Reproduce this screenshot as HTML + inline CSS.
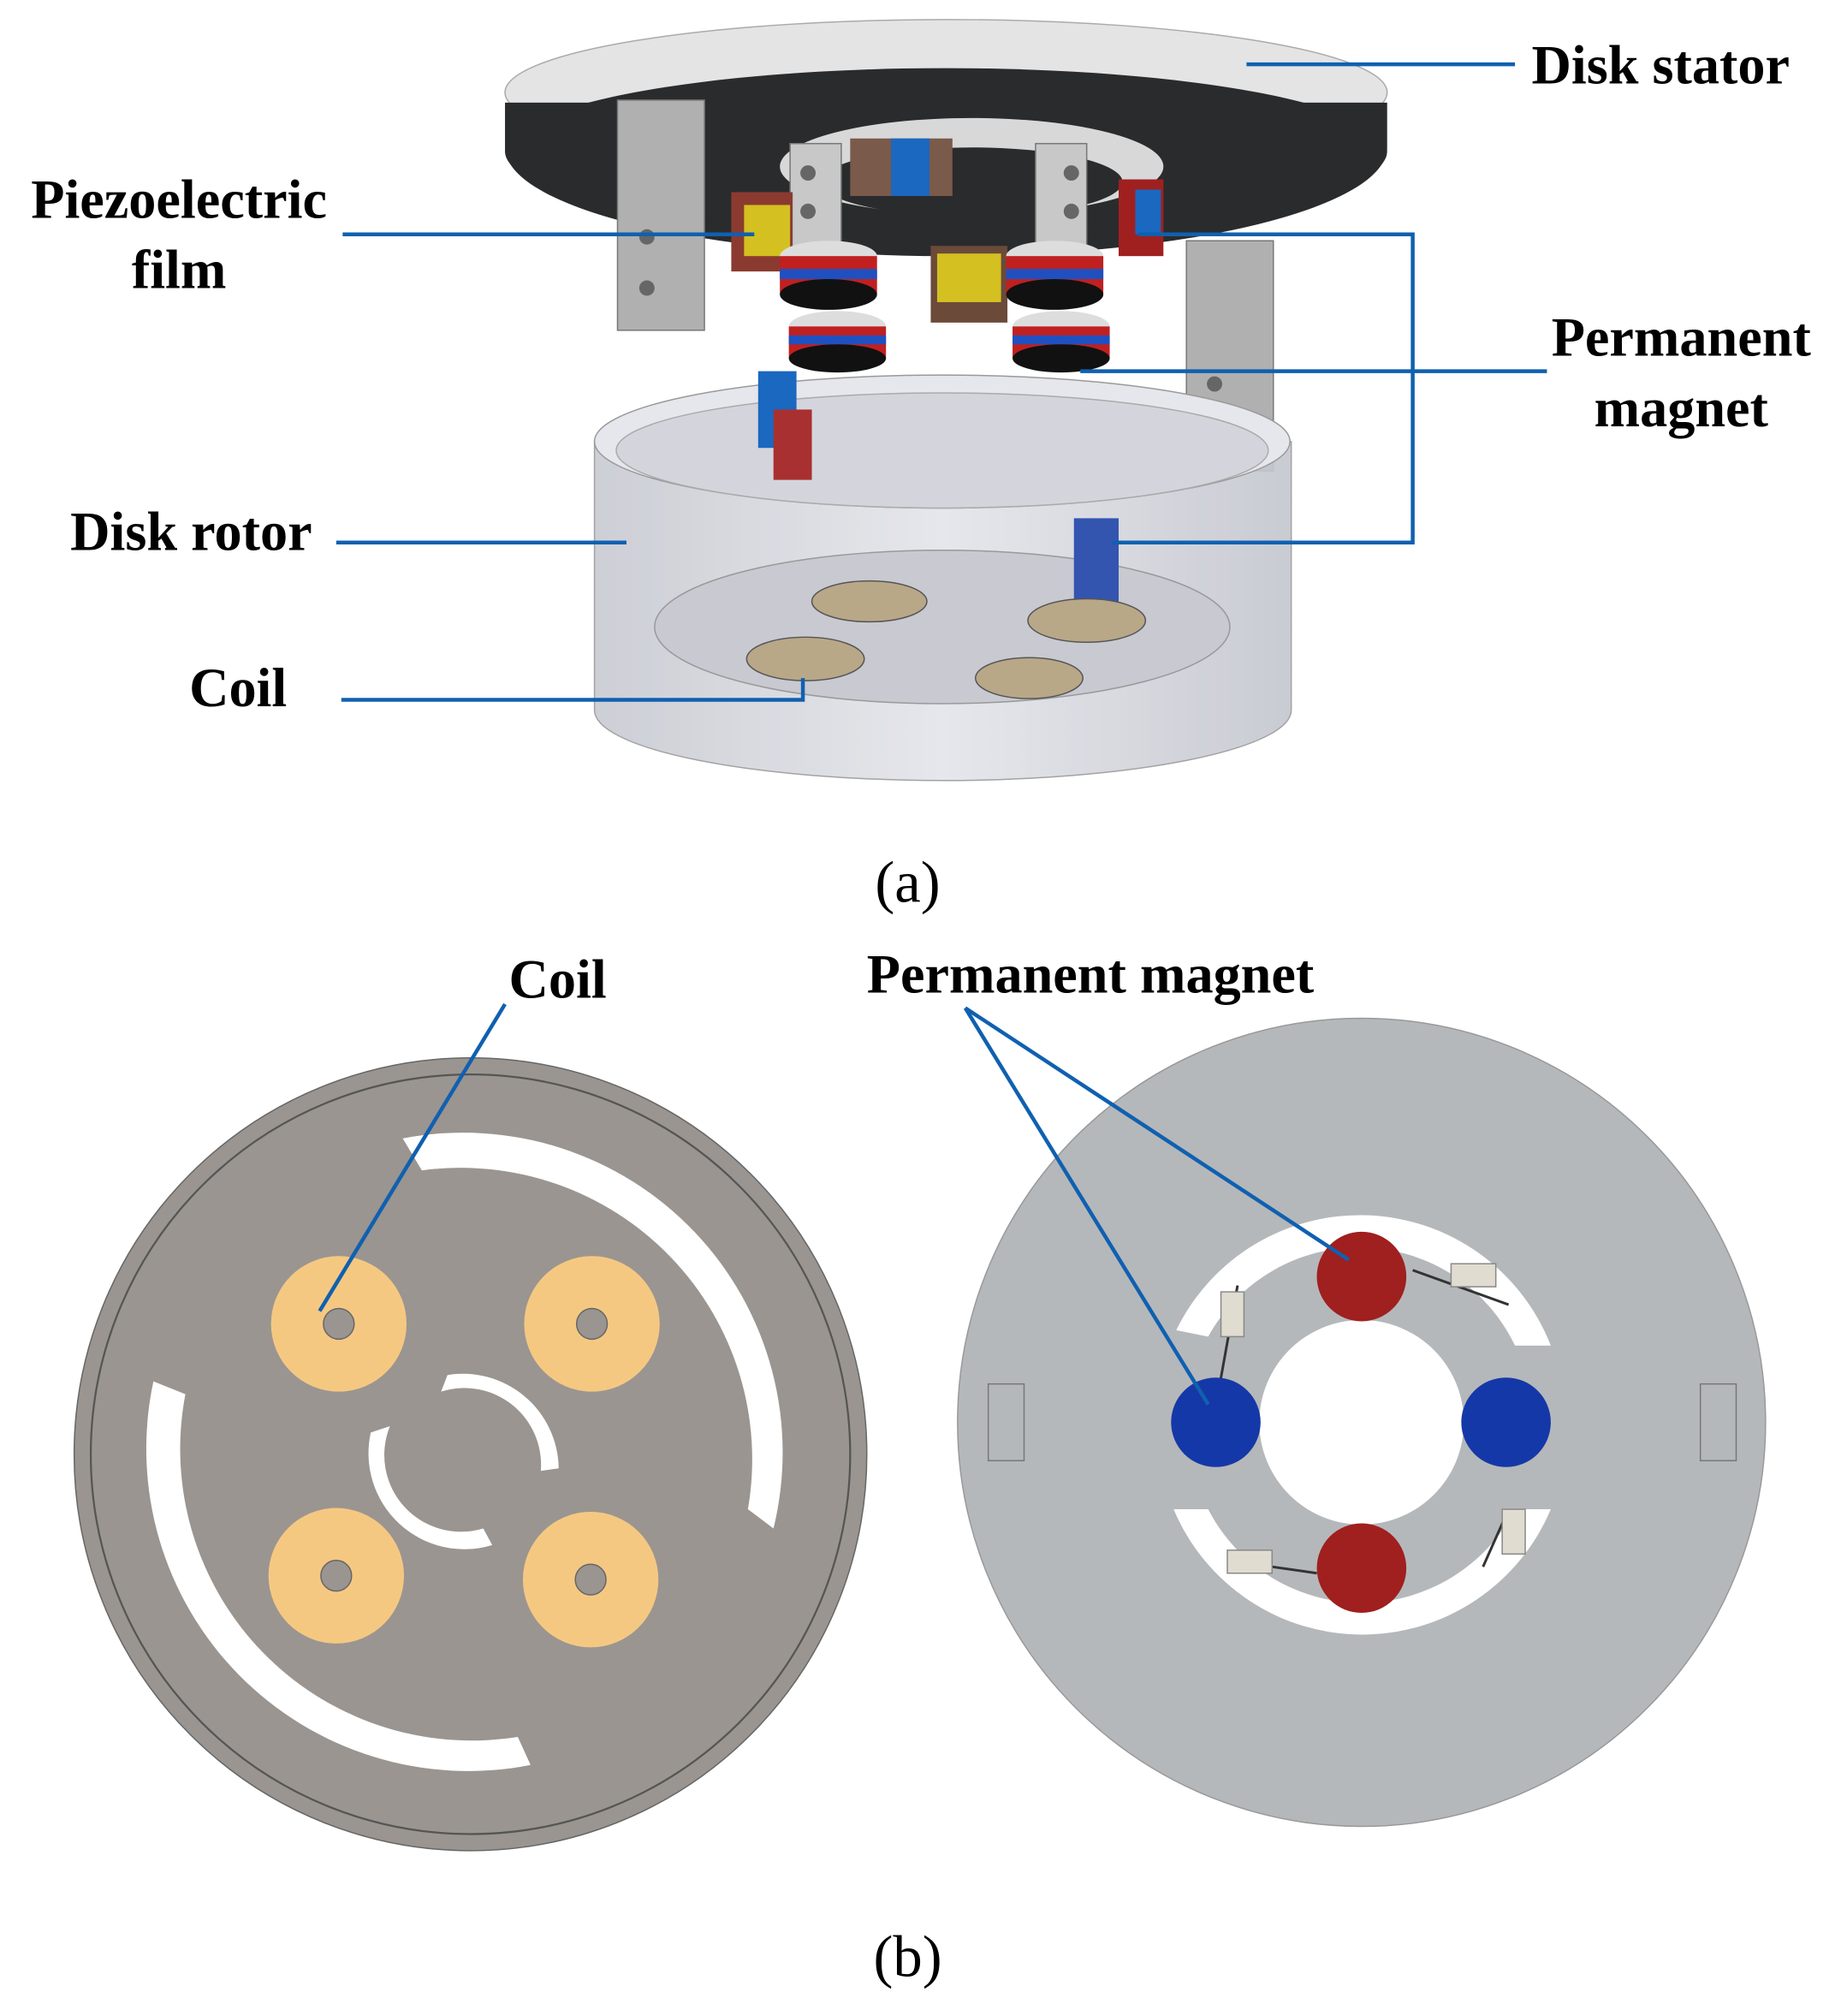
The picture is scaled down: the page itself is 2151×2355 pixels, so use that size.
<!DOCTYPE html>
<html><head><meta charset="utf-8"><style>html,body{margin:0;padding:0;background:#fff}svg{display:block}</style></head><body>
<svg width="2151" height="2355" viewBox="0 0 1440 1576" xmlns="http://www.w3.org/2000/svg">
<defs>
<linearGradient id="rot" x1="0" x2="1"><stop offset="0" stop-color="#c8cad2"/><stop offset="0.5" stop-color="#e4e5ea"/><stop offset="1" stop-color="#c4c6cf"/></linearGradient>
</defs>
<g font-family="Liberation Serif, serif" font-weight="bold" font-size="43" fill="#000">
<!-- Stator -->
<ellipse cx="740" cy="72" rx="345" ry="57" fill="#e4e4e4" stroke="#aaa"/>
<path d="M395 80 L395 115 A345 85 0 0 0 1085 115 L1085 80Z" fill="#2a2b2d"/>
<ellipse cx="740" cy="118" rx="345" ry="65" fill="#2a2b2d"/>
<ellipse cx="760" cy="130" rx="150" ry="38" fill="#d8d8d8"/>
<ellipse cx="760" cy="142" rx="118" ry="27" fill="#2a2b2d"/>
<!-- posts -->
<rect x="483" y="78" width="68" height="180" fill="#b0b0b0" stroke="#777"/>
<circle cx="506" cy="185" r="6" fill="#666"/><circle cx="506" cy="225" r="6" fill="#666"/>
<rect x="928" y="188" width="68" height="180" fill="#b0b0b0" stroke="#777"/>
<circle cx="950" cy="300" r="6" fill="#666"/><circle cx="950" cy="340" r="6" fill="#666"/>
<rect x="618" y="112" width="40" height="85" fill="#c8c8c8" stroke="#777"/>
<circle cx="632" cy="135" r="6" fill="#666"/><circle cx="632" cy="165" r="6" fill="#666"/>
<rect x="810" y="112" width="40" height="85" fill="#c8c8c8" stroke="#777"/>
<circle cx="838" cy="135" r="6" fill="#666"/><circle cx="838" cy="165" r="6" fill="#666"/>
<!-- piezo films -->
<rect x="572" y="150" width="48" height="62" fill="#8b3a30"/><rect x="582" y="160" width="36" height="40" fill="#d4c020"/>
<rect x="728" y="192" width="60" height="60" fill="#6b4a3a"/><rect x="733" y="198" width="50" height="38" fill="#d4c020"/>
<rect x="665" y="108" width="80" height="45" fill="#7a5a4a"/><rect x="697" y="108" width="30" height="45" fill="#1a68c0"/>
<rect x="875" y="140" width="35" height="60" fill="#a02020"/><rect x="888" y="148" width="20" height="35" fill="#1a68c0"/>
<!-- magnets stacks -->
<g>
<ellipse cx="648" cy="200" rx="38" ry="12" fill="#ddd"/><rect x="610" y="200" width="76" height="30" fill="#c02020"/><rect x="610" y="210" width="76" height="8" fill="#2050c0"/><ellipse cx="648" cy="230" rx="38" ry="12" fill="#111"/>
<ellipse cx="655" cy="255" rx="38" ry="12" fill="#ddd"/><rect x="617" y="255" width="76" height="25" fill="#c02020"/><rect x="617" y="262" width="76" height="7" fill="#2050c0"/><ellipse cx="655" cy="280" rx="38" ry="11" fill="#111"/>
<ellipse cx="825" cy="200" rx="38" ry="12" fill="#ddd"/><rect x="787" y="200" width="76" height="30" fill="#c02020"/><rect x="787" y="210" width="76" height="8" fill="#2050c0"/><ellipse cx="825" cy="230" rx="38" ry="12" fill="#111"/>
<ellipse cx="830" cy="255" rx="38" ry="12" fill="#ddd"/><rect x="792" y="255" width="76" height="25" fill="#c02020"/><rect x="792" y="262" width="76" height="7" fill="#2050c0"/><ellipse cx="830" cy="280" rx="38" ry="11" fill="#111"/>
</g>
<!-- rotor -->
<path d="M465 345 L465 555 A272 55 0 0 0 1010 555 L1010 345Z" fill="url(#rot)" stroke="#999" opacity="0.9"/>
<ellipse cx="737" cy="345" rx="272" ry="52" fill="#e6e7ec" stroke="#999"/>
<ellipse cx="737" cy="352" rx="255" ry="45" fill="#d4d5dc" stroke="#aaa"/>
<ellipse cx="737" cy="490" rx="225" ry="60" fill="#c8c9d1" stroke="#999"/>
<rect x="593" y="290" width="30" height="60" fill="#1a68c0"/><rect x="605" y="320" width="30" height="55" fill="#a83030"/>
<rect x="840" y="405" width="35" height="65" fill="#3355b0"/>
<!-- coils -->
<g fill="#b8a888" stroke="#555">
<ellipse cx="680" cy="470" rx="45" ry="16"/><ellipse cx="850" cy="485" rx="46" ry="17"/><ellipse cx="630" cy="515" rx="46" ry="17"/><ellipse cx="805" cy="530" rx="42" ry="16"/>
</g>
<!-- labels (a) -->
<text x="1198" y="65">Disk stator</text>
<text x="140" y="170" text-anchor="middle">Piezoelectric</text>
<text x="140" y="225" text-anchor="middle">film</text>
<text x="1315" y="278" text-anchor="middle">Permanent</text>
<text x="1315" y="333" text-anchor="middle">magnet</text>
<text x="55" y="430">Disk rotor</text>
<text x="148" y="552">Coil</text>
<text x="710" y="705" text-anchor="middle" font-weight="normal" font-size="46">(a)</text>
<g stroke="#1060b0" stroke-width="3" fill="none">
<path d="M975 50 H1185"/><path d="M268 183 H590"/><path d="M890 183 H1105 V424 H870"/><path d="M845 290 H1210"/><path d="M263 424 H490"/><path d="M267 547 H628 V530"/>
</g>
<!-- (b) left -->
<circle cx="368" cy="1137" r="310" fill="#9a9590" stroke="#666"/>
<circle cx="368" cy="1137" r="297" fill="none" stroke="#555" stroke-width="1.5"/>
<g fill="#fff">
<path d="M315 890 A250 250 0 0 1 605 1195 L585 1180 A228 228 0 0 0 330 915Z"/>
<path d="M120 1080 A252 252 0 0 0 415 1380 L405 1358 A228 228 0 0 1 145 1090Z"/>
<path d="M350 1075 A75 75 0 0 1 437 1148 L423 1150 A60 60 0 0 0 345 1088Z"/>
<path d="M290 1120 A75 75 0 0 0 385 1208 L378 1195 A60 60 0 0 1 305 1115Z"/>
</g>
<g fill="#f5c882"><circle cx="265" cy="1035" r="53"/><circle cx="463" cy="1035" r="53"/><circle cx="263" cy="1232" r="53"/><circle cx="462" cy="1235" r="53"/></g>
<g fill="#9a9590" stroke="#666"><circle cx="265" cy="1035" r="12"/><circle cx="463" cy="1035" r="12"/><circle cx="263" cy="1232" r="12"/><circle cx="462" cy="1235" r="12"/></g>
<!-- (b) right -->
<circle cx="1065" cy="1112" r="316" fill="#b5b8ba" stroke="#999"/>
<g fill="#fff">
<path d="M920 1040 A160 160 0 0 1 1213 1052 L1185 1052 A135 135 0 0 0 945 1045Z"/>
<path d="M918 1180 A160 160 0 0 0 1213 1180 L1185 1180 A135 135 0 0 1 945 1180Z"/>
</g>
<circle cx="1065" cy="1112" r="80" fill="#fff"/>
<rect x="773" y="1082" width="28" height="60" fill="none" stroke="#777"/>
<rect x="1330" y="1082" width="28" height="60" fill="none" stroke="#777"/>
<g stroke="#333" stroke-width="2"><path d="M968 1005 L950 1105"/><path d="M1105 993 L1180 1020"/><path d="M960 1220 L1030 1230"/><path d="M1180 1180 L1160 1225"/></g>
<g fill="#e0dcd0" stroke="#888"><rect x="1135" y="988" width="35" height="18"/><rect x="955" y="1010" width="18" height="35"/><rect x="960" y="1212" width="35" height="18"/><rect x="1175" y="1180" width="18" height="35"/></g>
<g fill="#a01f1f"><circle cx="1065" cy="998" r="35"/><circle cx="1065" cy="1226" r="35"/></g>
<g fill="#1538a8"><circle cx="951" cy="1112" r="35"/><circle cx="1178" cy="1112" r="35"/></g>
<text x="398" y="780">Coil</text>
<text x="678" y="776">Permanent magnet</text>
<g stroke="#1060b0" stroke-width="3" fill="none"><path d="M395 785 L250 1025"/><path d="M755 788 L1055 985"/><path d="M755 788 L945 1098"/></g>
<text x="710" y="1545" text-anchor="middle" font-weight="normal" font-size="46">(b)</text>
</g>
</svg>
</body></html>
